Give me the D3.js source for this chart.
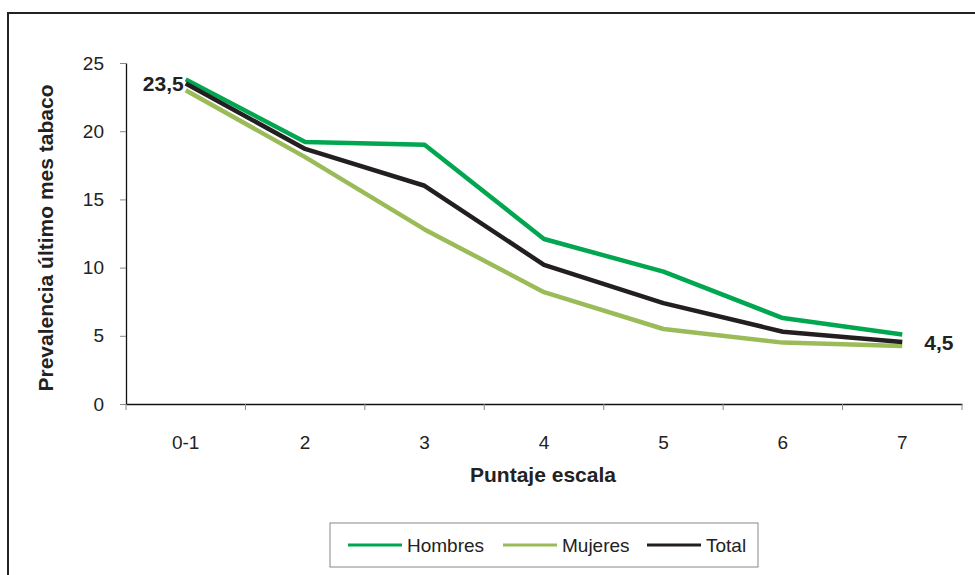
<!DOCTYPE html>
<html><head><meta charset="utf-8">
<script src="https://cdn.jsdelivr.net/npm/d3@7"></script>
<style>body{margin:0;background:#fff;font-family:"Liberation Sans",Arial,sans-serif;}</style>
</head><body>
<svg id="c" width="975" height="575"></svg>
<script>
const categories = ["0-1","2","3","4","5","6","7"];
const hombres = [23.8,19.2,19.0,12.1,9.7,6.3,5.1];
const mujeres = [23.0,18.1,12.8,8.2,5.5,4.5,4.25];
const total   = [23.5,18.7,16.0,10.2,7.4,5.3,4.55];
const yTicks = [0,5,10,15,20,25];
const seriesNames = ["Hombres","Mujeres","Total"];
const colors = ["#00a650","#9bbb59","#231f20"];
const labelFirst = "23,5", labelLast = "4,5";

const FS = 19, FB = 21;
const svg = d3.select("#c");
svg.append("rect").attr("x",8).attr("y",13).attr("width",1000).attr("height",600)
  .attr("fill","none").attr("stroke","#222").attr("stroke-width",2);

const x = d3.scaleBand().domain(categories).range([126,962]);
const y = d3.scaleLinear().domain([0,25]).range([404,63]);

// y axis
const ya = svg.append("g").attr("transform","translate(126,0)")
  .call(d3.axisLeft(y).tickValues(yTicks).tickSize(6).tickSizeOuter(0).tickPadding(16));
ya.select(".domain").attr("stroke","#111").attr("stroke-width",1.3);
ya.selectAll(".tick line").attr("stroke","#888");
ya.selectAll("text").attr("font-size",FS).attr("fill","#222").attr("font-family","Liberation Sans, Arial");

// x axis
const xa = svg.append("g").attr("transform","translate(0,404)")
  .call(d3.axisBottom(x).tickSize(0).tickPadding(32).tickSizeOuter(0));
xa.select(".domain").attr("stroke","#111").attr("stroke-width",1.3);
xa.selectAll("text").attr("font-size",FS).attr("fill","#222").attr("font-family","Liberation Sans, Arial");
const bounds = categories.map(c=>x(c)).concat([x(categories[categories.length-1])+x.bandwidth()]);
svg.append("g").selectAll("line").data(bounds).join("line")
  .attr("x1",d=>d).attr("x2",d=>d).attr("y1",404).attr("y2",410)
  .attr("stroke","#888").attr("stroke-width",1);

// titles
svg.append("text").attr("transform","translate(53,238) rotate(-90)")
  .attr("text-anchor","middle").attr("font-size",FB).attr("font-weight","bold").attr("fill","#222")
  .text("Prevalencia último mes tabaco");
svg.append("text").attr("x",543).attr("y",482).attr("text-anchor","middle")
  .attr("font-size",FB).attr("font-weight","bold").attr("fill","#222").text("Puntaje escala");

// lines
const line = d3.line().x((d,i)=>x(categories[i])+x.bandwidth()/2).y(d=>y(d));
[hombres,mujeres,total].forEach((s,k)=>{
  svg.append("path").datum(s).attr("d",line).attr("fill","none")
    .attr("stroke",colors[k]).attr("stroke-width",4.5).attr("stroke-linejoin","round");
});

// data labels
svg.append("text").attr("x",x(categories[0])+x.bandwidth()/2-2).attr("y",y(total[0])+8)
  .attr("text-anchor","end").attr("font-size",FB).attr("font-weight","bold").attr("fill","#222").text(labelFirst);
svg.append("text").attr("x",x(categories[6])+x.bandwidth()/2+22).attr("y",y(total[6])+8)
  .attr("text-anchor","start").attr("font-size",FB).attr("font-weight","bold").attr("fill","#222").text(labelLast);

// legend
svg.append("rect").attr("x",330).attr("y",523).attr("width",428).attr("height",44)
  .attr("fill","#fff").attr("stroke","#888").attr("stroke-width",1);
const legX = [348,503,647];
seriesNames.forEach((n,k)=>{
  svg.append("line").attr("x1",legX[k]).attr("x2",legX[k]+54).attr("y1",545).attr("y2",545)
    .attr("stroke",colors[k]).attr("stroke-width",3);
  svg.append("text").attr("x",legX[k]+59).attr("y",552).attr("font-size",FS).attr("fill","#222").text(n);
});
</script>
</body></html>
